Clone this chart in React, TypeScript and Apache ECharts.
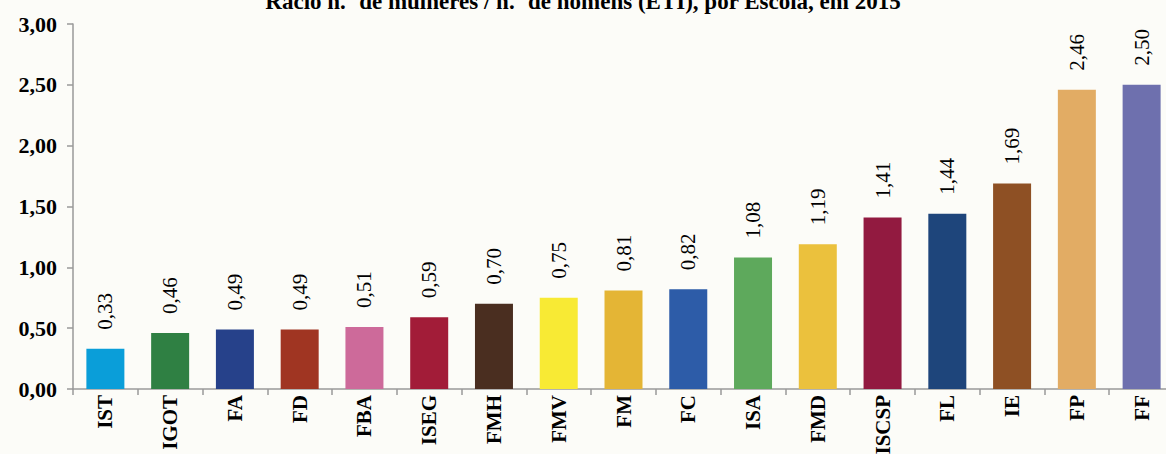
import React, { useEffect, useRef } from "react";
import * as echarts from "echarts";

const schools = ["IST", "IGOT", "FA", "FD", "FBA", "ISEG", "FMH", "FMV", "FM", "FC", "ISA", "FMD", "ISCSP", "FL", "IE", "FP", "FF"];
const ratios = [0.33, 0.46, 0.49, 0.49, 0.51, 0.59, 0.70, 0.75, 0.81, 0.82, 1.08, 1.19, 1.41, 1.44, 1.69, 2.46, 2.50];
const barColors = [
  "#0a9ed9", "#2f8043", "#26418a", "#a03522", "#cd6a9a", "#a21c38", "#4a2e20", "#f8ea34", "#e4b535",
  "#2d5ca8", "#5ea95c", "#ebc13d", "#921a40", "#1e457b", "#8e5024", "#e2ac64", "#6e70ae",
];
const yTicks = [0, 0.5, 1, 1.5, 2, 2.5, 3];

const fmt = (v: number) => v.toFixed(2).replace(".", ",");
const serif = "Liberation Serif";

export default function App() {
  const ref = useRef<HTMLDivElement>(null);

  useEffect(() => {
    if (!ref.current) return;
    const chart = echarts.init(ref.current, undefined, { renderer: "svg" });
    chart.setOption({
      animation: false,
      backgroundColor: "#fcfcf8",
      title: {
        text: "Rácio n.º de mulheres / n.º de homens (ETI), por Escola, em 2015",
        left: "center",
        top: -15,
        textStyle: { fontFamily: serif, fontSize: 23, fontWeight: "bold", color: "#000" },
      },
      grid: { left: 73, right: -8, top: 24, bottom: 65, containLabel: false, outerBoundsMode: "none" },
      xAxis: {
        type: "category",
        data: schools,
        axisLine: { lineStyle: { color: "#9a9a9a", width: 1.5 } },
        axisTick: { show: true, length: 6, lineStyle: { color: "#9a9a9a", width: 1.5 } },
        axisLabel: {
          rotate: 90,
          margin: 6,
          interval: 0,
          fontFamily: serif,
          fontSize: 21,
          fontWeight: "bold",
          color: "#000",
        },
      },
      yAxis: {
        type: "value",
        min: 0,
        max: yTicks[yTicks.length - 1],
        interval: 0.5,
        splitLine: { show: false },
        axisLine: { show: true, lineStyle: { color: "#9a9a9a", width: 1.5 } },
        axisTick: { show: true, length: 6, lineStyle: { color: "#9a9a9a", width: 1.5 } },
        axisLabel: {
          margin: 16,
          fontFamily: serif,
          fontSize: 22,
          fontWeight: "bold",
          color: "#000",
          formatter: (v: number) => fmt(v),
        },
      },
      series: [
        {
          type: "bar",
          barWidth: 38,
          data: ratios.map((v, i) => ({ value: v, itemStyle: { color: barColors[i] } })),
          label: {
            show: true,
            position: "top",
            rotate: 90,
            align: "left",
            verticalAlign: "middle",
            distance: 19,
            fontFamily: serif,
            fontSize: 21,
            color: "#000",
            formatter: (p: any) => fmt(p.value),
          },
        },
      ],
    });
    return () => chart.dispose();
  }, []);

  return (
    <div
      ref={ref}
      style={{ position: "absolute", left: 0, top: 0, width: 1166, height: 454 }}
    />
  );
}
